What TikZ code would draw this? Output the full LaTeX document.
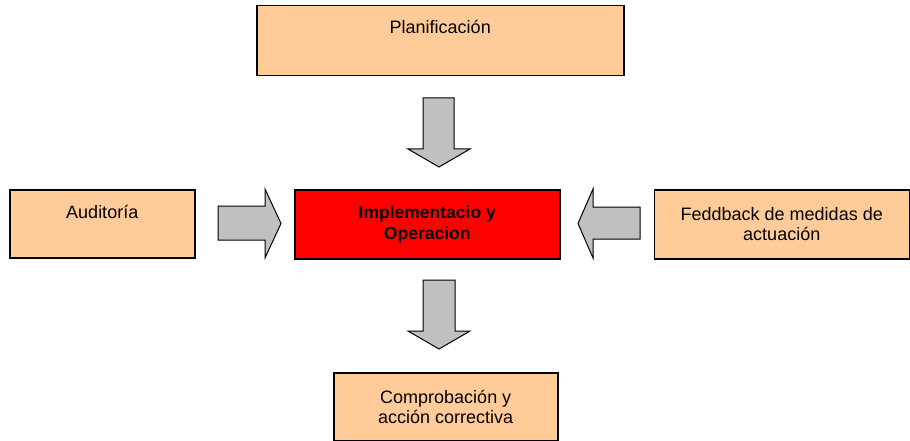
\documentclass[tikz,border=0pt]{standalone}
\usepackage{fontspec}
\setmainfont{Liberation Sans}
\definecolor{peach}{HTML}{FFCC99}
\definecolor{arrowgray}{HTML}{C0C0C0}
\definecolor{boxred}{HTML}{FF0000}
\begin{document}
\begin{tikzpicture}[x=1pt,y=-1pt,
  box/.style={draw=black, line width=1.5pt, fill=peach, rectangle, inner sep=0pt, anchor=north west},
  redbox/.style={box, fill=boxred},
  txt/.style={font=\fontsize{18}{20.5}\selectfont, align=center, inner sep=0pt},
  boldtxt/.style={font=\fontsize{17.5}{21.5}\selectfont\bfseries, align=center, inner sep=0pt},
  blockarrow/.style={draw=black, line width=1pt, fill=arrowgray, line join=miter}]
\useasboundingbox (0,0) rectangle (910,441);

% boxes
\node[box, minimum width=367pt, minimum height=70pt] (plan) at (256,5) {};
\node[box, minimum width=185pt, minimum height=68pt] (aud) at (9,189) {};
\node[redbox, minimum width=265pt, minimum height=69pt] (impl) at (294,189) {};
\node[box, minimum width=255pt, minimum height=69pt] (feed) at (653.5,189) {};
\node[box, minimum width=224pt, minimum height=68pt] (comp) at (333,372) {};

% texts
\node[txt, anchor=base] (plantxt) at ([yshift=-29pt]plan.north) {Planificación};
\node[txt, anchor=base] (audtxt) at ([yshift=-29pt]aud.north) {Auditoría};
\node[boldtxt] (impltxt) at (impl.center) {Implementacio y\\Operacion};
\node[txt] (feedtxt) at (feed.center) {Feddback de medidas de\\actuación};
\node[txt] (comptxt) at (comp.center) {Comprobación y\\acción correctiva};

% block arrows
\draw[blockarrow] (423,98) -- (454,98) -- (454,149) -- (470,149) -- (439,167)
  -- (408,149) -- (423,149) -- cycle;
\draw[blockarrow] (423,280) -- (455,280) -- (455,331) -- (470,331) -- (439,349)
  -- (408,331) -- (423,331) -- cycle;
\draw[blockarrow] (218,206) -- (265,206) -- (265,189) -- (281,223.5) -- (265,258)
  -- (265,240) -- (218,240) -- cycle;
\draw[blockarrow] (640,207) -- (593,207) -- (593,189) -- (578,223.5) -- (593,258)
  -- (593,239) -- (640,239) -- cycle;
\end{tikzpicture}
\end{document}
